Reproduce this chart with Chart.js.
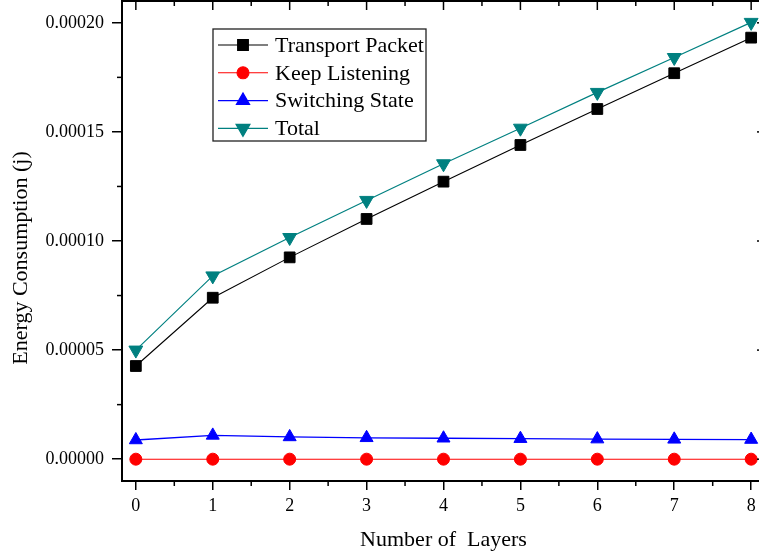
<!DOCTYPE html>
<html>
<head>
<meta charset="utf-8">
<script src="https://cdn.jsdelivr.net/npm/chart.js@4.4.1/dist/chart.umd.min.js"></script>
<style>
  html, body { margin: 0; padding: 0; background: #fff; overflow: hidden; }
  #wrap { width: 759px; height: 557px; overflow: hidden; position: relative; }
  canvas { display: block; }
</style>
</head>
<body>
<div id="wrap"><canvas id="chart" width="780" height="557"></canvas></div>
<script>
// Energy consumed per number of layers (joules)
const layers = [0, 1, 2, 3, 4, 5, 6, 7, 8];
const transportPacket = [0.0000427, 0.0000740, 0.0000925, 0.0001101, 0.0001272, 0.0001440, 0.0001605, 0.0001769, 0.0001932];
const keepListening   = [0, 0, 0, 0, 0, 0, 0, 0, 0];
const switchingState  = [0.0000088, 0.0000109, 0.0000102, 0.0000098, 0.0000096, 0.0000094, 0.0000092, 0.0000091, 0.0000090];
const total           = [0.0000500, 0.0000840, 0.0001016, 0.0001186, 0.0001354, 0.0001517, 0.0001681, 0.0001841, 0.0002002];

const xTickValues = [0, 1, 2, 3, 4, 5, 6, 7, 8];
const yTickValues = [0, 0.00005, 0.00010, 0.00015, 0.00020];

const xTitle = 'Number of  Layers';
const yTitle = 'Energy Consumption (j)';

const FONT = "'Liberation Serif', 'Times New Roman', serif";

function points(values) {
  return layers.map((x, i) => ({ x: x, y: values[i] }));
}

// Minor ticks sit halfway between major ticks
function minorValues(majors, min, max) {
  const step = majors[1] - majors[0];
  const out = [];
  for (let v = majors[0] - step / 2; v <= max; v += step) {
    if (v >= min && v <= max) out.push(v);
  }
  return out;
}

// Frame on top/right, inward ticks on the mirror axes, minor ticks everywhere
const frameTicks = {
  id: 'frameTicks',
  afterDraw(chart) {
    const { ctx, chartArea: a, scales: { x, y } } = chart;
    const seg = (x1, y1, x2, y2) => { ctx.beginPath(); ctx.moveTo(x1, y1); ctx.lineTo(x2, y2); ctx.stroke(); };
    ctx.save();
    ctx.strokeStyle = '#000';
    ctx.lineWidth = 2;
    seg(a.left - 1, a.top, a.right + 1, a.top);
    seg(a.right, a.top, a.right, a.bottom);
    ctx.lineWidth = 1.5;
    xTickValues.forEach(v => {
      const px = x.getPixelForValue(v);
      seg(px, a.top, px, a.top + 9);
    });
    minorValues(xTickValues, x.min, x.max).forEach(v => {
      const px = x.getPixelForValue(v);
      seg(px, a.top, px, a.top + 5);
      seg(px, a.bottom, px, a.bottom + 5);
    });
    yTickValues.forEach(v => {
      const py = y.getPixelForValue(v);
      seg(a.right, py, a.right - 8, py);
    });
    minorValues(yTickValues, y.min, y.max).forEach(v => {
      const py = y.getPixelForValue(v);
      seg(a.left, py, a.left - 5, py);
      seg(a.right, py, a.right - 5, py);
    });
    ctx.restore();
  }
};

// Rotated y-axis title, set slightly below the middle of the axis
const yAxisTitle = {
  id: 'yAxisTitle',
  afterDraw(chart, args, opts) {
    const { ctx } = chart;
    ctx.save();
    ctx.translate(opts.x, opts.y);
    ctx.rotate(-Math.PI / 2);
    ctx.font = opts.fontSize + 'px ' + FONT;
    ctx.fillStyle = '#000';
    ctx.textAlign = 'center';
    ctx.textBaseline = 'middle';
    ctx.fillText(yTitle, 0, 0);
    ctx.restore();
  }
};

// Boxed legend with a line sample and the series marker in its middle
const boxLegend = {
  id: 'boxLegend',
  afterDraw(chart, args, opts) {
    const { ctx } = chart;
    ctx.save();
    ctx.strokeStyle = '#222';
    ctx.lineWidth = 1.3;
    ctx.strokeRect(opts.left, opts.top, opts.width, opts.height);
    ctx.font = opts.fontSize + 'px ' + FONT;
    ctx.textBaseline = 'middle';
    ctx.textAlign = 'left';
    chart.data.datasets.forEach((ds, i) => {
      const cy = opts.firstRow + i * opts.rowGap;
      const x0 = opts.left + 5, x1 = x0 + opts.sample;
      ctx.strokeStyle = ds.borderColor;
      ctx.lineWidth = ds.borderWidth;
      ctx.beginPath(); ctx.moveTo(x0, cy); ctx.lineTo(x1, cy); ctx.stroke();
      ctx.fillStyle = ds.pointBackgroundColor;
      ctx.strokeStyle = ds.pointBorderColor;
      Chart.helpers.drawPoint(ctx, {
        pointStyle: ds.pointStyle, rotation: ds.pointRotation || 0,
        radius: ds.pointRadius, borderWidth: 1
      }, (x0 + x1) / 2, cy);
      ctx.fillStyle = '#000';
      ctx.fillText(ds.label, x1 + 7, cy + 1);
    });
    ctx.restore();
  }
};

function series(label, values, color, style, radius, rotation, width) {
  return {
    label: label,
    data: points(values),
    borderColor: color,
    backgroundColor: color,
    pointBackgroundColor: color,
    pointBorderColor: color,
    pointStyle: style,
    pointRadius: radius,
    pointRotation: rotation,
    pointBorderWidth: 1,
    borderWidth: width,
    tension: 0,
    fill: false
  };
}

new Chart(document.getElementById('chart'), {
  type: 'line',
  data: {
    datasets: [
      series('Transport Packet', transportPacket, '#000000', 'rect', 7.6, 0, 1.1),
      series('Keep Listening', keepListening, '#ff0000', 'circle', 6, 0, 1.1),
      series('Switching State', switchingState, '#0000ff', 'triangle', 7.5, 0, 1.3),
      series('Total', total, '#008080', 'triangle', 8, 180, 1.2)
    ]
  },
  options: {
    responsive: false,
    devicePixelRatio: 1,
    animation: false,
    clip: false,
    layout: { autoPadding: false, padding: { top: 1, right: 15, left: 0, bottom: 0 } },
    plugins: {
      legend: { display: false },
      tooltip: { enabled: false },
      yAxisTitle: { x: 21, y: 258, fontSize: 22 },
      boxLegend: { left: 213, top: 29, width: 213, height: 112, firstRow: 45, rowGap: 27.8, sample: 50, fontSize: 22 }
    },
    scales: {
      x: {
        type: 'linear',
        min: -0.18,
        max: 8.18,
        afterFit(scale) {
          scale.height = 76;
          scale.paddingLeft = 0; scale.paddingRight = 0;
        },
        afterBuildTicks(scale) { scale.ticks = xTickValues.map(v => ({ value: v })); },
        grid: { drawOnChartArea: false, drawTicks: true, tickLength: 9, color: '#000', lineWidth: 1.5 },
        border: { display: true, color: '#000', width: 2 },
        ticks: {
          color: '#000', padding: 5, maxRotation: 0, autoSkip: false,
          font: { family: FONT, size: 18 },
          callback: v => String(v)
        },
        title: {
          display: true, text: xTitle, color: '#000',
          font: { family: FONT, size: 22 }, padding: { top: 0, bottom: 4 }
        }
      },
      y: {
        type: 'linear',
        min: -0.00001,
        max: 0.00021,
        afterFit(scale) {
          scale.width = 122;
          scale.paddingTop = 0; scale.paddingBottom = 0;
        },
        afterBuildTicks(scale) { scale.ticks = yTickValues.map(v => ({ value: v })); },
        grid: { drawOnChartArea: false, drawTicks: true, tickLength: 10, color: '#000', lineWidth: 1.5 },
        border: { display: true, color: '#000', width: 2 },
        ticks: {
          color: '#000', padding: 8, autoSkip: false,
          font: { family: FONT, size: 18 },
          callback: v => Number(v).toFixed(5)
        },
        title: { display: false }
      }
    }
  },
  plugins: [frameTicks, yAxisTitle, boxLegend]
});
</script>
</body>
</html>
